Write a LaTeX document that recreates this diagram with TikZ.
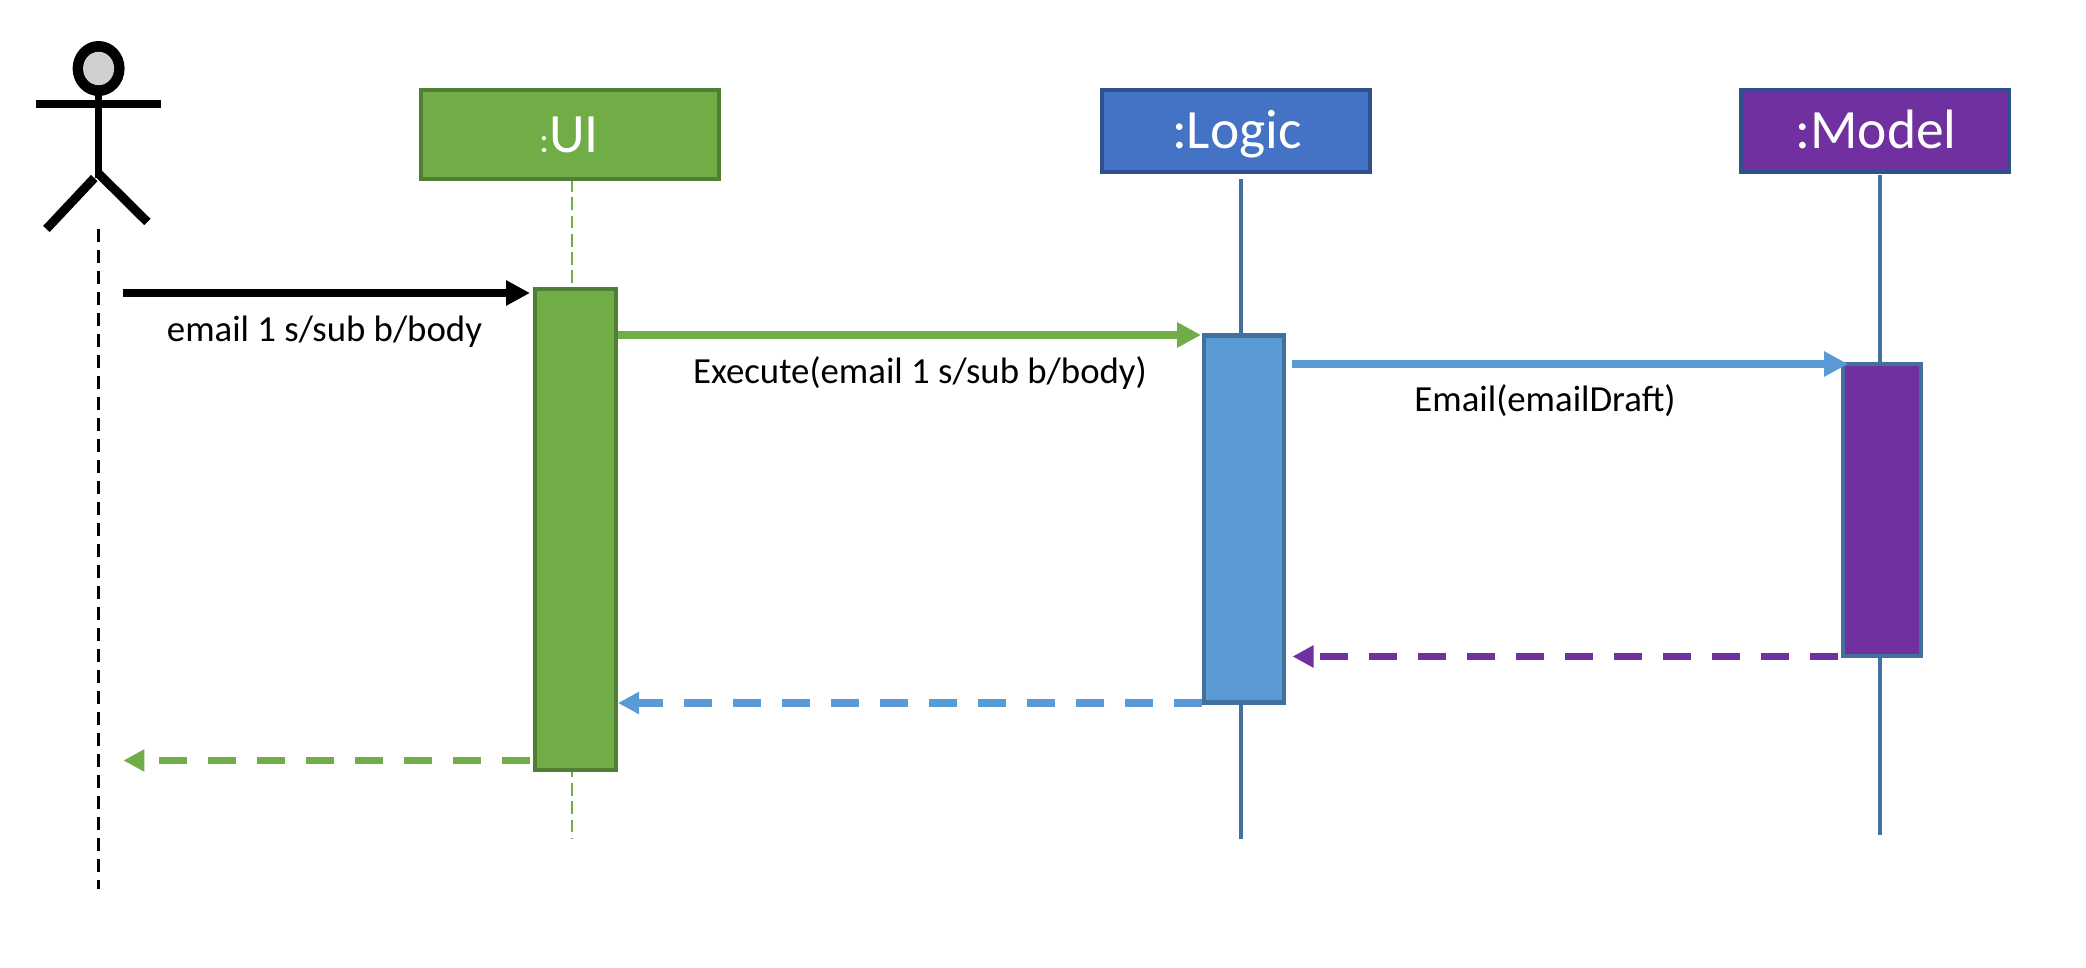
\documentclass[tikz,border=0pt]{standalone}
\usepackage{fontspec}
\setmainfont{Carlito}
\usetikzlibrary{arrows.meta,backgrounds}
\definecolor{uigreen}{HTML}{70AD47}
\definecolor{uigreendk}{HTML}{507E32}
\definecolor{lgblue}{HTML}{4472C4}
\definecolor{navyedge}{HTML}{2F528F}
\definecolor{actblue}{HTML}{5B9BD5}
\definecolor{actedge}{HTML}{41719C}
\definecolor{mdpurple}{HTML}{7030A0}
\definecolor{headgray}{HTML}{D0CECE}
\newcommand{\fpx}[1]{\fontsize{#1}{#1}\selectfont}
\tikzset{
  x=1pt,y=-1pt,
  objbox/.style={draw,line width=4pt,inner sep=0pt,text=white,text depth=0pt},
  actbox/.style={draw,line width=4.4pt,inner sep=0pt},
  lbl/.style={anchor=base,inner sep=0pt,font=\fpx{36.8}},
  objlbl/.style={anchor=base,inner sep=0pt,text=white,font=\fpx{55.5}},
  msg/.style={line width=8.5pt,-{Triangle[length=24pt,width=24pt]}},
  ret/.style={line width=7.8pt,dash pattern=on 28pt off 21pt,-{Triangle[length=21pt,width=21pt]}},
  life/.style={line width=4pt,actedge},
}
\begin{document}
\begin{tikzpicture}
\useasboundingbox (0,0) rectangle (2086,968);
% objects
\node[objbox,fill=uigreen,draw=uigreendk,minimum width=298pt,minimum height=89pt] (ui) at (570,135) {};
\node[objbox,fill=lgblue,draw=navyedge,minimum width=268pt,minimum height=82pt] (logic) at (1236,131) {};
\node[objbox,fill=mdpurple,draw=navyedge,minimum width=268pt,minimum height=82pt] (model) at (1875,131) {};
\node[objlbl] (uit) at (569,153) {{\fpx{36}:}UI};
\node[objlbl] (lgt) at (1237,149) {:Logic};
\node[objlbl] (mdt) at (1876,149) {:Model};
% activations
\node[actbox,fill=uigreen,draw=uigreendk,minimum width=81pt,minimum height=481pt] (uia) at (575.5,529.5) {};
\node[actbox,fill=actblue,draw=actedge,minimum width=80pt,minimum height=367pt] (lga) at (1244,519) {};
\node[actbox,fill=mdpurple,draw=actedge,minimum width=78pt,minimum height=292pt] (mda) at (1882,510) {};
% free ends of the lifelines
\coordinate (uitop) at (572,179);
\coordinate (uibot) at (572,839);
\coordinate (lgtop) at (1241,179);
\coordinate (lgbot) at (1241,839);
\coordinate (mdtop) at (1880,175);
\coordinate (mdbot) at (1880,835);
\coordinate (actorfoot) at (98.5,229);
\coordinate (actorbot) at (98.5,889);
\begin{scope}[on background layer]
\draw[line width=2.4pt,uigreen,dash pattern=on 12.7pt off 5.6pt] (uitop) -- (uibot);
\draw[life] (lgtop) -- (lgbot);
\draw[life] (mdtop) -- (mdbot);
\draw[line width=3pt,black,dash pattern=on 12.7pt off 8.3pt] (actorfoot) -- (actorbot);
\end{scope}
% actor
\fill[black] (98.6,68.5) ellipse [x radius=26,y radius=27.5];
\fill[headgray] (98.6,68.5) ellipse [x radius=15.5,y radius=16.7];
\draw[line width=8.7pt] (36,104) -- (161,104);
\draw[line width=7.5pt] (98.5,95) -- (98.5,178);
\draw[line width=9pt] (94.3,178) -- (46.4,229);
\draw[line width=9pt] (98,173) -- (147.4,222);
% message ends and levels
\coordinate (m1) at (123,293);
\coordinate (m2) at (618,335);
\coordinate (m3) at (1292,364);
\coordinate (r1) at (1292.5,656.5);
\coordinate (r2) at (618,703);
\coordinate (r3) at (123.4,760.5);
\coordinate (m1tip) at (530,293);
\coordinate (m2tip) at (1201,335);
\coordinate (m3tip) at (1848,364);
\coordinate (r1tail) at (1838,656.5);
\coordinate (r2tail) at (1202,703);
\coordinate (r3tail) at (530,760.5);
\draw[msg,black] (m1) -- (m1tip);
\draw[msg,uigreen] (m2) -- (m2tip);
\draw[msg,actblue] (m3) -- (m3tip);
\draw[ret,mdpurple] (r1tail) -- (r1);
\draw[ret,actblue] (r2tail) -- (r2);
\draw[ret,uigreen] (r3tail) -- (r3);
% labels
\node[lbl] (l1) at (324.5,341.5) {email 1 s/sub b/body};
\node[lbl] (l2) at (920,383) {Execute(email 1 s/sub b/body)};
\node[lbl] (l3) at (1545,411) {Email(emailDraft)};
\end{tikzpicture}
\end{document}
